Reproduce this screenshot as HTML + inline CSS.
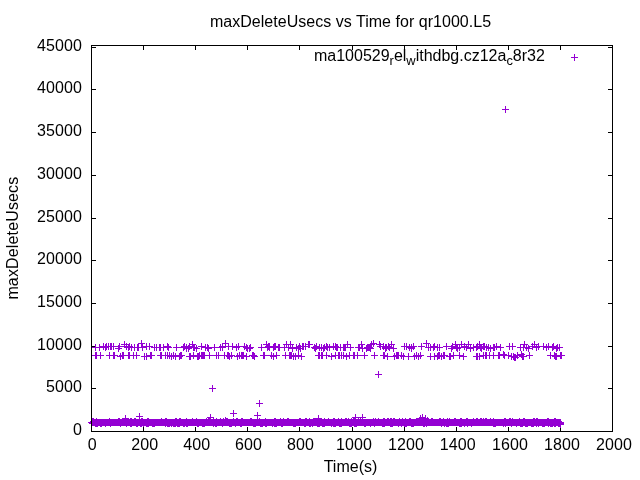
<!DOCTYPE html>
<html><head><meta charset="utf-8"><title>maxDeleteUsecs vs Time for qr1000.L5</title>
<style>
html,body{margin:0;padding:0;background:#fff;}
body{width:640px;height:480px;overflow:hidden;}
svg{display:block;}
text{font-family:"Liberation Sans",sans-serif;font-size:16px;fill:#000;}
</style></head><body>
<svg width="640" height="480" viewBox="0 0 640 480">
<rect width="640" height="480" fill="#fff"/>
<g shape-rendering="crispEdges">
<path d="M143 427h1v4h-1zM143 46h1v4h-1zM195 427h1v4h-1zM195 46h1v4h-1zM247 427h1v4h-1zM247 46h1v4h-1zM299 427h1v4h-1zM299 46h1v4h-1zM352 427h1v4h-1zM352 46h1v4h-1zM404 427h1v4h-1zM404 46h1v4h-1zM456 427h1v4h-1zM456 46h1v4h-1zM508 427h1v4h-1zM508 46h1v4h-1zM560 427h1v4h-1zM560 46h1v4h-1zM92 388h4v1h-4zM608 388h4v1h-4zM92 346h4v1h-4zM608 346h4v1h-4zM92 303h4v1h-4zM608 303h4v1h-4zM92 260h4v1h-4zM608 260h4v1h-4zM92 218h4v1h-4zM608 218h4v1h-4zM92 175h4v1h-4zM608 175h4v1h-4zM92 132h4v1h-4zM608 132h4v1h-4zM92 89h4v1h-4zM608 89h4v1h-4zM92 47h4v1h-4zM608 47h4v1h-4z" fill="#000"/>
<path d="M88 422h1v1h-1zM89 422h1v2h-1zM90 421h1v3h-1zM91 419h470v7h-470zM561 421h1v4h-1zM562 422h2v3h-2zM560 426h1v2h-1zM92 418h2v1h-2zM96 418h1v1h-1zM109 418h1v1h-1zM118 418h2v1h-2zM122 418h2v1h-2zM126 418h1v1h-1zM130 418h2v1h-2zM134 418h2v1h-2zM141 418h2v1h-2zM147 418h2v1h-2zM161 418h1v1h-1zM165 418h2v1h-2zM175 418h2v1h-2zM179 418h2v1h-2zM186 418h1v1h-1zM192 418h1v1h-1zM196 418h1v1h-1zM206 418h1v1h-1zM208 418h2v1h-2zM213 418h1v1h-1zM216 418h1v1h-1zM220 418h1v1h-1zM223 418h1v1h-1zM226 418h2v1h-2zM233 418h1v1h-1zM236 418h2v1h-2zM241 418h2v1h-2zM250 418h2v1h-2zM257 418h1v1h-1zM259 418h1v1h-1zM265 418h1v1h-1zM274 418h2v1h-2zM280 418h1v1h-1zM283 418h1v1h-1zM287 418h2v1h-2zM299 418h2v1h-2zM305 418h2v1h-2zM309 418h1v1h-1zM313 418h2v1h-2zM318 418h2v1h-2zM324 418h1v1h-1zM328 418h1v1h-1zM333 418h2v1h-2zM338 418h1v1h-1zM341 418h1v1h-1zM345 418h2v1h-2zM348 418h1v1h-1zM351 418h1v1h-1zM353 418h2v1h-2zM358 418h1v1h-1zM360 418h1v1h-1zM373 418h1v1h-1zM375 418h1v1h-1zM378 418h1v1h-1zM383 418h2v1h-2zM387 418h2v1h-2zM390 418h2v1h-2zM393 418h2v1h-2zM399 418h1v1h-1zM402 418h1v1h-1zM405 418h1v1h-1zM409 418h2v1h-2zM416 418h2v1h-2zM420 418h1v1h-1zM431 418h2v1h-2zM439 418h2v1h-2zM443 418h1v1h-1zM447 418h1v1h-1zM449 418h1v1h-1zM454 418h2v1h-2zM460 418h2v1h-2zM466 418h2v1h-2zM473 418h1v1h-1zM476 418h2v1h-2zM480 418h2v1h-2zM483 418h1v1h-1zM485 418h2v1h-2zM490 418h1v1h-1zM493 418h1v1h-1zM504 418h2v1h-2zM509 418h2v1h-2zM512 418h1v1h-1zM519 418h1v1h-1zM523 418h2v1h-2zM533 418h2v1h-2zM536 418h2v1h-2zM547 418h2v1h-2zM554 418h2v1h-2zM95 426h3v1h-3zM100 426h2v1h-2zM105 426h1v1h-1zM110 426h1v1h-1zM120 426h1v1h-1zM126 426h1v1h-1zM130 426h2v1h-2zM136 426h2v1h-2zM140 426h2v1h-2zM143 426h1v1h-1zM146 426h3v1h-3zM152 426h3v1h-3zM165 426h1v1h-1zM167 426h3v1h-3zM171 426h1v1h-1zM173 426h3v1h-3zM177 426h3v1h-3zM183 426h2v1h-2zM186 426h2v1h-2zM197 426h2v1h-2zM202 426h3v1h-3zM213 426h1v1h-1zM215 426h2v1h-2zM222 426h1v1h-1zM229 426h3v1h-3zM235 426h1v1h-1zM240 426h2v1h-2zM253 426h3v1h-3zM260 426h3v1h-3zM265 426h2v1h-2zM272 426h1v1h-1zM274 426h3v1h-3zM281 426h2v1h-2zM293 426h3v1h-3zM304 426h2v1h-2zM309 426h2v1h-2zM312 426h1v1h-1zM317 426h3v1h-3zM322 426h3v1h-3zM331 426h1v1h-1zM333 426h3v1h-3zM339 426h3v1h-3zM349 426h3v1h-3zM354 426h3v1h-3zM364 426h2v1h-2zM370 426h1v1h-1zM374 426h1v1h-1zM382 426h3v1h-3zM390 426h3v1h-3zM398 426h1v1h-1zM401 426h1v1h-1zM404 426h3v1h-3zM411 426h3v1h-3zM423 426h2v1h-2zM426 426h1v1h-1zM441 426h1v1h-1zM444 426h1v1h-1zM446 426h3v1h-3zM459 426h3v1h-3zM464 426h1v1h-1zM467 426h1v1h-1zM471 426h1v1h-1zM493 426h3v1h-3zM503 426h1v1h-1zM505 426h1v1h-1zM511 426h1v1h-1zM516 426h1v1h-1zM520 426h3v1h-3zM525 426h3v1h-3zM531 426h3v1h-3zM536 426h1v1h-1zM538 426h1v1h-1zM542 426h3v1h-3zM548 426h1v1h-1zM550 426h3v1h-3zM554 426h2v1h-2zM558 426h2v1h-2z" fill="#9400d3"/>
<path d="M92 347h7v1h-7zM95 344h1v7h-1zM96 347h7v1h-7zM99 344h1v7h-1zM100 346h7v1h-7zM103 343h1v7h-1zM103 346h7v1h-7zM106 343h1v7h-1zM102 347h7v1h-7zM105 344h1v7h-1zM105 346h7v1h-7zM108 343h1v7h-1zM107 346h7v1h-7zM110 343h1v7h-1zM108 346h7v1h-7zM111 343h1v7h-1zM110 346h7v1h-7zM113 343h1v7h-1zM115 348h7v1h-7zM118 345h1v7h-1zM116 346h7v1h-7zM119 343h1v7h-1zM121 344h7v1h-7zM124 341h1v7h-1zM123 346h7v1h-7zM126 343h1v7h-1zM125 347h7v1h-7zM128 344h1v7h-1zM126 346h7v1h-7zM129 343h1v7h-1zM128 347h7v1h-7zM131 344h1v7h-1zM131 347h7v1h-7zM134 344h1v7h-1zM134 347h7v1h-7zM137 344h1v7h-1zM135 347h7v1h-7zM138 344h1v7h-1zM138 343h7v1h-7zM141 340h1v7h-1zM139 347h7v1h-7zM142 344h1v7h-1zM143 346h7v1h-7zM146 343h1v7h-1zM146 346h7v1h-7zM149 343h1v7h-1zM151 347h7v1h-7zM154 344h1v7h-1zM153 347h7v1h-7zM156 344h1v7h-1zM153 347h7v1h-7zM156 344h1v7h-1zM156 347h7v1h-7zM159 344h1v7h-1zM157 347h7v1h-7zM160 344h1v7h-1zM160 347h7v1h-7zM163 344h1v7h-1zM164 346h7v1h-7zM167 343h1v7h-1zM165 347h7v1h-7zM168 344h1v7h-1zM173 347h7v1h-7zM176 344h1v7h-1zM180 347h7v1h-7zM183 344h1v7h-1zM181 346h7v1h-7zM184 343h1v7h-1zM183 347h7v1h-7zM186 344h1v7h-1zM183 348h7v1h-7zM186 345h1v7h-1zM185 348h7v1h-7zM188 345h1v7h-1zM186 346h7v1h-7zM189 343h1v7h-1zM189 344h7v1h-7zM192 341h1v7h-1zM190 347h7v1h-7zM193 344h1v7h-1zM191 347h7v1h-7zM194 344h1v7h-1zM193 348h7v1h-7zM196 345h1v7h-1zM198 346h7v1h-7zM201 343h1v7h-1zM202 347h7v1h-7zM205 344h1v7h-1zM204 347h7v1h-7zM207 344h1v7h-1zM205 348h7v1h-7zM208 345h1v7h-1zM211 347h7v1h-7zM214 344h1v7h-1zM217 347h7v1h-7zM220 344h1v7h-1zM219 347h7v1h-7zM222 344h1v7h-1zM219 346h7v1h-7zM222 343h1v7h-1zM222 343h7v1h-7zM225 340h1v7h-1zM225 346h7v1h-7zM228 343h1v7h-1zM229 346h7v1h-7zM232 343h1v7h-1zM233 347h7v1h-7zM236 344h1v7h-1zM235 346h7v1h-7zM238 343h1v7h-1zM241 346h7v1h-7zM244 343h1v7h-1zM243 347h7v1h-7zM246 344h1v7h-1zM244 348h7v1h-7zM247 345h1v7h-1zM246 348h7v1h-7zM249 345h1v7h-1zM247 347h7v1h-7zM250 344h1v7h-1zM258 347h7v1h-7zM261 344h1v7h-1zM263 344h7v1h-7zM266 341h1v7h-1zM264 347h7v1h-7zM267 344h1v7h-1zM265 346h7v1h-7zM268 343h1v7h-1zM266 347h7v1h-7zM269 344h1v7h-1zM266 346h7v1h-7zM269 343h1v7h-1zM270 347h7v1h-7zM273 344h1v7h-1zM271 346h7v1h-7zM274 343h1v7h-1zM272 346h7v1h-7zM275 343h1v7h-1zM275 347h7v1h-7zM278 344h1v7h-1zM276 347h7v1h-7zM279 344h1v7h-1zM281 347h7v1h-7zM284 344h1v7h-1zM283 344h7v1h-7zM286 341h1v7h-1zM285 347h7v1h-7zM288 344h1v7h-1zM287 344h7v1h-7zM290 341h1v7h-1zM289 348h7v1h-7zM292 345h1v7h-1zM293 347h7v1h-7zM296 344h1v7h-1zM295 348h7v1h-7zM298 345h1v7h-1zM296 346h7v1h-7zM299 343h1v7h-1zM297 348h7v1h-7zM300 345h1v7h-1zM300 346h7v1h-7zM303 343h1v7h-1zM299 346h7v1h-7zM302 343h1v7h-1zM302 346h7v1h-7zM305 343h1v7h-1zM305 344h7v1h-7zM308 341h1v7h-1zM306 344h7v1h-7zM309 341h1v7h-1zM311 347h7v1h-7zM314 344h1v7h-1zM312 348h7v1h-7zM315 345h1v7h-1zM313 346h7v1h-7zM316 343h1v7h-1zM316 347h7v1h-7zM319 344h1v7h-1zM318 347h7v1h-7zM321 344h1v7h-1zM320 348h7v1h-7zM323 345h1v7h-1zM321 347h7v1h-7zM324 344h1v7h-1zM323 346h7v1h-7zM326 343h1v7h-1zM324 347h7v1h-7zM327 344h1v7h-1zM326 347h7v1h-7zM329 344h1v7h-1zM330 346h7v1h-7zM333 343h1v7h-1zM332 346h7v1h-7zM335 343h1v7h-1zM334 347h7v1h-7zM337 344h1v7h-1zM333 347h7v1h-7zM336 344h1v7h-1zM337 347h7v1h-7zM340 344h1v7h-1zM340 347h7v1h-7zM343 344h1v7h-1zM341 347h7v1h-7zM344 344h1v7h-1zM342 347h7v1h-7zM345 344h1v7h-1zM344 344h7v1h-7zM347 341h1v7h-1zM347 347h7v1h-7zM350 344h1v7h-1zM355 347h7v1h-7zM358 344h1v7h-1zM356 347h7v1h-7zM359 344h1v7h-1zM358 344h7v1h-7zM361 341h1v7h-1zM359 348h7v1h-7zM362 345h1v7h-1zM363 348h7v1h-7zM366 345h1v7h-1zM365 347h7v1h-7zM368 344h1v7h-1zM365 347h7v1h-7zM368 344h1v7h-1zM364 347h7v1h-7zM367 344h1v7h-1zM366 347h7v1h-7zM369 344h1v7h-1zM367 348h7v1h-7zM370 345h1v7h-1zM368 344h7v1h-7zM371 341h1v7h-1zM370 343h7v1h-7zM373 340h1v7h-1zM376 344h7v1h-7zM379 341h1v7h-1zM377 346h7v1h-7zM380 343h1v7h-1zM380 346h7v1h-7zM383 343h1v7h-1zM382 347h7v1h-7zM385 344h1v7h-1zM383 347h7v1h-7zM386 344h1v7h-1zM382 348h7v1h-7zM385 345h1v7h-1zM386 347h7v1h-7zM389 344h1v7h-1zM385 346h7v1h-7zM388 343h1v7h-1zM388 344h7v1h-7zM391 341h1v7h-1zM390 348h7v1h-7zM393 345h1v7h-1zM401 346h7v1h-7zM404 343h1v7h-1zM403 346h7v1h-7zM406 343h1v7h-1zM406 347h7v1h-7zM409 344h1v7h-1zM408 348h7v1h-7zM411 345h1v7h-1zM408 347h7v1h-7zM411 344h1v7h-1zM410 346h7v1h-7zM413 343h1v7h-1zM418 346h7v1h-7zM421 343h1v7h-1zM423 343h7v1h-7zM426 340h1v7h-1zM425 347h7v1h-7zM428 344h1v7h-1zM425 347h7v1h-7zM428 344h1v7h-1zM427 347h7v1h-7zM430 344h1v7h-1zM430 347h7v1h-7zM433 344h1v7h-1zM431 346h7v1h-7zM434 343h1v7h-1zM431 346h7v1h-7zM434 343h1v7h-1zM434 347h7v1h-7zM437 344h1v7h-1zM436 347h7v1h-7zM439 344h1v7h-1zM443 346h7v1h-7zM446 343h1v7h-1zM448 348h7v1h-7zM451 345h1v7h-1zM449 346h7v1h-7zM452 343h1v7h-1zM452 344h7v1h-7zM455 341h1v7h-1zM453 347h7v1h-7zM456 344h1v7h-1zM454 348h7v1h-7zM457 345h1v7h-1zM456 347h7v1h-7zM459 344h1v7h-1zM458 344h7v1h-7zM461 341h1v7h-1zM461 346h7v1h-7zM464 343h1v7h-1zM463 347h7v1h-7zM466 344h1v7h-1zM465 344h7v1h-7zM468 341h1v7h-1zM467 348h7v1h-7zM470 345h1v7h-1zM470 347h7v1h-7zM473 344h1v7h-1zM473 347h7v1h-7zM476 344h1v7h-1zM474 346h7v1h-7zM477 343h1v7h-1zM476 344h7v1h-7zM479 341h1v7h-1zM478 348h7v1h-7zM481 345h1v7h-1zM477 347h7v1h-7zM480 344h1v7h-1zM481 346h7v1h-7zM484 343h1v7h-1zM480 346h7v1h-7zM483 343h1v7h-1zM483 347h7v1h-7zM486 344h1v7h-1zM485 347h7v1h-7zM488 344h1v7h-1zM487 348h7v1h-7zM490 345h1v7h-1zM490 347h7v1h-7zM493 344h1v7h-1zM491 347h7v1h-7zM494 344h1v7h-1zM493 346h7v1h-7zM496 343h1v7h-1zM497 347h7v1h-7zM500 344h1v7h-1zM506 346h7v1h-7zM509 343h1v7h-1zM509 346h7v1h-7zM512 343h1v7h-1zM517 347h7v1h-7zM520 344h1v7h-1zM520 347h7v1h-7zM523 344h1v7h-1zM521 344h7v1h-7zM524 341h1v7h-1zM523 347h7v1h-7zM526 344h1v7h-1zM525 348h7v1h-7zM528 345h1v7h-1zM529 346h7v1h-7zM532 343h1v7h-1zM531 344h7v1h-7zM534 341h1v7h-1zM533 347h7v1h-7zM536 344h1v7h-1zM535 346h7v1h-7zM538 343h1v7h-1zM540 346h7v1h-7zM543 343h1v7h-1zM543 347h7v1h-7zM546 344h1v7h-1zM545 346h7v1h-7zM548 343h1v7h-1zM549 347h7v1h-7zM552 344h1v7h-1zM550 346h7v1h-7zM553 343h1v7h-1zM553 348h7v1h-7zM556 345h1v7h-1zM554 347h7v1h-7zM557 344h1v7h-1zM556 347h7v1h-7zM559 344h1v7h-1zM93 355h7v1h-7zM96 352h1v7h-1zM92 355h7v1h-7zM95 352h1v7h-1zM97 355h7v1h-7zM100 352h1v7h-1zM106 355h7v1h-7zM109 352h1v7h-1zM110 355h7v1h-7zM113 352h1v7h-1zM111 355h7v1h-7zM114 352h1v7h-1zM117 356h7v1h-7zM120 353h1v7h-1zM119 355h7v1h-7zM122 352h1v7h-1zM120 355h7v1h-7zM123 352h1v7h-1zM125 355h7v1h-7zM128 352h1v7h-1zM126 355h7v1h-7zM129 352h1v7h-1zM130 355h7v1h-7zM133 352h1v7h-1zM133 355h7v1h-7zM136 352h1v7h-1zM141 356h7v1h-7zM144 353h1v7h-1zM143 356h7v1h-7zM146 353h1v7h-1zM147 355h7v1h-7zM150 352h1v7h-1zM148 355h7v1h-7zM151 352h1v7h-1zM157 355h7v1h-7zM160 352h1v7h-1zM158 355h7v1h-7zM161 352h1v7h-1zM162 355h7v1h-7zM165 352h1v7h-1zM164 355h7v1h-7zM167 352h1v7h-1zM166 355h7v1h-7zM169 352h1v7h-1zM168 356h7v1h-7zM171 353h1v7h-1zM170 355h7v1h-7zM173 352h1v7h-1zM172 356h7v1h-7zM175 353h1v7h-1zM176 356h7v1h-7zM179 353h1v7h-1zM178 355h7v1h-7zM181 352h1v7h-1zM177 355h7v1h-7zM180 352h1v7h-1zM187 356h7v1h-7zM190 353h1v7h-1zM186 356h7v1h-7zM189 353h1v7h-1zM190 355h7v1h-7zM193 352h1v7h-1zM194 356h7v1h-7zM197 353h1v7h-1zM195 356h7v1h-7zM198 353h1v7h-1zM196 355h7v1h-7zM199 352h1v7h-1zM199 355h7v1h-7zM202 352h1v7h-1zM198 355h7v1h-7zM201 352h1v7h-1zM200 355h7v1h-7zM203 352h1v7h-1zM201 355h7v1h-7zM204 352h1v7h-1zM206 355h7v1h-7zM209 352h1v7h-1zM213 355h7v1h-7zM216 352h1v7h-1zM215 355h7v1h-7zM218 352h1v7h-1zM221 355h7v1h-7zM224 352h1v7h-1zM224 355h7v1h-7zM227 352h1v7h-1zM225 355h7v1h-7zM228 352h1v7h-1zM226 356h7v1h-7zM229 353h1v7h-1zM228 355h7v1h-7zM231 352h1v7h-1zM234 356h7v1h-7zM237 353h1v7h-1zM236 355h7v1h-7zM239 352h1v7h-1zM238 355h7v1h-7zM241 352h1v7h-1zM240 355h7v1h-7zM243 352h1v7h-1zM239 355h7v1h-7zM242 352h1v7h-1zM243 356h7v1h-7zM246 353h1v7h-1zM249 355h7v1h-7zM252 352h1v7h-1zM250 355h7v1h-7zM253 352h1v7h-1zM251 356h7v1h-7zM254 353h1v7h-1zM260 355h7v1h-7zM263 352h1v7h-1zM261 355h7v1h-7zM264 352h1v7h-1zM268 355h7v1h-7zM271 352h1v7h-1zM270 356h7v1h-7zM273 353h1v7h-1zM273 355h7v1h-7zM276 352h1v7h-1zM282 355h7v1h-7zM285 352h1v7h-1zM286 355h7v1h-7zM289 352h1v7h-1zM287 355h7v1h-7zM290 352h1v7h-1zM288 355h7v1h-7zM291 352h1v7h-1zM287 355h7v1h-7zM290 352h1v7h-1zM290 356h7v1h-7zM293 353h1v7h-1zM292 356h7v1h-7zM295 353h1v7h-1zM295 355h7v1h-7zM298 352h1v7h-1zM298 356h7v1h-7zM301 353h1v7h-1zM315 355h7v1h-7zM318 352h1v7h-1zM316 355h7v1h-7zM319 352h1v7h-1zM318 355h7v1h-7zM321 352h1v7h-1zM319 355h7v1h-7zM322 352h1v7h-1zM323 355h7v1h-7zM326 352h1v7h-1zM328 356h7v1h-7zM331 353h1v7h-1zM332 355h7v1h-7zM335 352h1v7h-1zM336 355h7v1h-7zM339 352h1v7h-1zM335 355h7v1h-7zM338 352h1v7h-1zM338 355h7v1h-7zM341 352h1v7h-1zM340 355h7v1h-7zM343 352h1v7h-1zM343 356h7v1h-7zM346 353h1v7h-1zM346 355h7v1h-7zM349 352h1v7h-1zM351 355h7v1h-7zM354 352h1v7h-1zM350 355h7v1h-7zM353 352h1v7h-1zM354 355h7v1h-7zM357 352h1v7h-1zM361 355h7v1h-7zM364 352h1v7h-1zM371 355h7v1h-7zM374 352h1v7h-1zM381 355h7v1h-7zM384 352h1v7h-1zM380 355h7v1h-7zM383 352h1v7h-1zM384 356h7v1h-7zM387 353h1v7h-1zM391 356h7v1h-7zM394 353h1v7h-1zM393 355h7v1h-7zM396 352h1v7h-1zM395 355h7v1h-7zM398 352h1v7h-1zM394 355h7v1h-7zM397 352h1v7h-1zM398 355h7v1h-7zM401 352h1v7h-1zM400 356h7v1h-7zM403 353h1v7h-1zM405 356h7v1h-7zM408 353h1v7h-1zM411 356h7v1h-7zM414 353h1v7h-1zM413 355h7v1h-7zM416 352h1v7h-1zM415 356h7v1h-7zM418 353h1v7h-1zM417 355h7v1h-7zM420 352h1v7h-1zM427 356h7v1h-7zM430 353h1v7h-1zM431 356h7v1h-7zM434 353h1v7h-1zM434 356h7v1h-7zM437 353h1v7h-1zM436 355h7v1h-7zM439 352h1v7h-1zM435 355h7v1h-7zM438 352h1v7h-1zM438 356h7v1h-7zM441 353h1v7h-1zM440 355h7v1h-7zM443 352h1v7h-1zM441 355h7v1h-7zM444 352h1v7h-1zM447 356h7v1h-7zM450 353h1v7h-1zM446 356h7v1h-7zM449 353h1v7h-1zM450 355h7v1h-7zM453 352h1v7h-1zM456 355h7v1h-7zM459 352h1v7h-1zM460 356h7v1h-7zM463 353h1v7h-1zM474 356h7v1h-7zM477 353h1v7h-1zM473 356h7v1h-7zM476 353h1v7h-1zM476 356h7v1h-7zM479 353h1v7h-1zM480 355h7v1h-7zM483 352h1v7h-1zM483 355h7v1h-7zM486 352h1v7h-1zM482 355h7v1h-7zM485 352h1v7h-1zM486 355h7v1h-7zM489 352h1v7h-1zM490 355h7v1h-7zM493 352h1v7h-1zM495 355h7v1h-7zM498 352h1v7h-1zM496 355h7v1h-7zM499 352h1v7h-1zM496 355h7v1h-7zM499 352h1v7h-1zM500 354h7v1h-7zM503 351h1v7h-1zM501 355h7v1h-7zM504 352h1v7h-1zM505 355h7v1h-7zM508 352h1v7h-1zM508 356h7v1h-7zM511 353h1v7h-1zM510 356h7v1h-7zM513 353h1v7h-1zM512 357h7v1h-7zM515 354h1v7h-1zM511 357h7v1h-7zM514 354h1v7h-1zM514 355h7v1h-7zM517 352h1v7h-1zM518 354h7v1h-7zM521 351h1v7h-1zM519 356h7v1h-7zM522 353h1v7h-1zM520 356h7v1h-7zM523 353h1v7h-1zM526 355h7v1h-7zM529 352h1v7h-1zM547 355h7v1h-7zM550 352h1v7h-1zM551 355h7v1h-7zM554 352h1v7h-1zM553 356h7v1h-7zM556 353h1v7h-1zM552 356h7v1h-7zM555 353h1v7h-1zM557 355h7v1h-7zM560 352h1v7h-1zM558 355h7v1h-7zM561 352h1v7h-1zM502 109h7v1h-7zM505 106h1v7h-1zM571 57h7v1h-7zM574 54h1v7h-1zM209 388h7v1h-7zM212 385h1v7h-1zM256 403h7v1h-7zM259 400h1v7h-1zM230 413h7v1h-7zM233 410h1v7h-1zM254 415h7v1h-7zM257 412h1v7h-1zM207 417h7v1h-7zM210 414h1v7h-1zM375 374h7v1h-7zM378 371h1v7h-1zM352 417h7v1h-7zM355 414h1v7h-1zM359 417h7v1h-7zM362 414h1v7h-1zM122 418h7v1h-7zM125 415h1v7h-1zM136 416h7v1h-7zM139 413h1v7h-1zM315 418h7v1h-7zM318 415h1v7h-1zM222 420h7v1h-7zM225 417h1v7h-1zM417 418h7v1h-7zM420 415h1v7h-1zM419 417h7v1h-7zM422 414h1v7h-1zM422 418h7v1h-7zM425 415h1v7h-1zM416 420h7v1h-7zM419 417h1v7h-1zM424 420h7v1h-7zM427 417h1v7h-1zM420 420h7v1h-7zM423 417h1v7h-1z" fill="#9400d3"/>
<path d="M91 45h522v387h-522zM92 46v385h520v-385z" fill="#000" fill-rule="evenodd"/>
</g>
<text x="350.5" y="27" text-anchor="middle" letter-spacing="0.03">maxDeleteUsecs vs Time for qr1000.L5</text>
<text transform="translate(17.5,238.1) rotate(-90)" text-anchor="middle" letter-spacing="0.15">maxDeleteUsecs</text>
<text x="350.5" y="471.7" text-anchor="middle">Time(s)</text>
<text x="544.9" y="61" text-anchor="end">ma100529<tspan dy="4.1" font-size="12.9">r</tspan><tspan dy="-4.1">el</tspan><tspan dy="4.1" font-size="12.9">w</tspan><tspan dy="-4.1">ithdbg.cz12a</tspan><tspan dy="4.1" font-size="12.9">c</tspan><tspan dy="-4.1">8r32</tspan></text>
<text x="82.1" y="435.10" text-anchor="end" letter-spacing="0.1">0</text>
<text x="82.1" y="392.38" text-anchor="end" letter-spacing="0.1">5000</text>
<text x="82.1" y="349.66" text-anchor="end" letter-spacing="0.1">10000</text>
<text x="82.1" y="306.94" text-anchor="end" letter-spacing="0.1">15000</text>
<text x="82.1" y="264.22" text-anchor="end" letter-spacing="0.1">20000</text>
<text x="82.1" y="221.50" text-anchor="end" letter-spacing="0.1">25000</text>
<text x="82.1" y="178.78" text-anchor="end" letter-spacing="0.1">30000</text>
<text x="82.1" y="136.06" text-anchor="end" letter-spacing="0.1">35000</text>
<text x="82.1" y="93.34" text-anchor="end" letter-spacing="0.1">40000</text>
<text x="82.1" y="50.62" text-anchor="end" letter-spacing="0.1">45000</text>
<text x="92.25" y="450.2" text-anchor="middle" letter-spacing="0.1">0</text>
<text x="144.70" y="450.2" text-anchor="middle" letter-spacing="0.1">200</text>
<text x="196.80" y="450.2" text-anchor="middle" letter-spacing="0.1">400</text>
<text x="248.40" y="450.2" text-anchor="middle" letter-spacing="0.1">600</text>
<text x="300.50" y="450.2" text-anchor="middle" letter-spacing="0.1">800</text>
<text x="354.00" y="450.2" text-anchor="middle" letter-spacing="0.1">1000</text>
<text x="406.10" y="450.2" text-anchor="middle" letter-spacing="0.1">1200</text>
<text x="457.80" y="450.2" text-anchor="middle" letter-spacing="0.1">1400</text>
<text x="509.90" y="450.2" text-anchor="middle" letter-spacing="0.1">1600</text>
<text x="562.00" y="450.2" text-anchor="middle" letter-spacing="0.1">1800</text>
<text x="614.10" y="450.2" text-anchor="middle" letter-spacing="0.1">2000</text>

</svg>
</body></html>
